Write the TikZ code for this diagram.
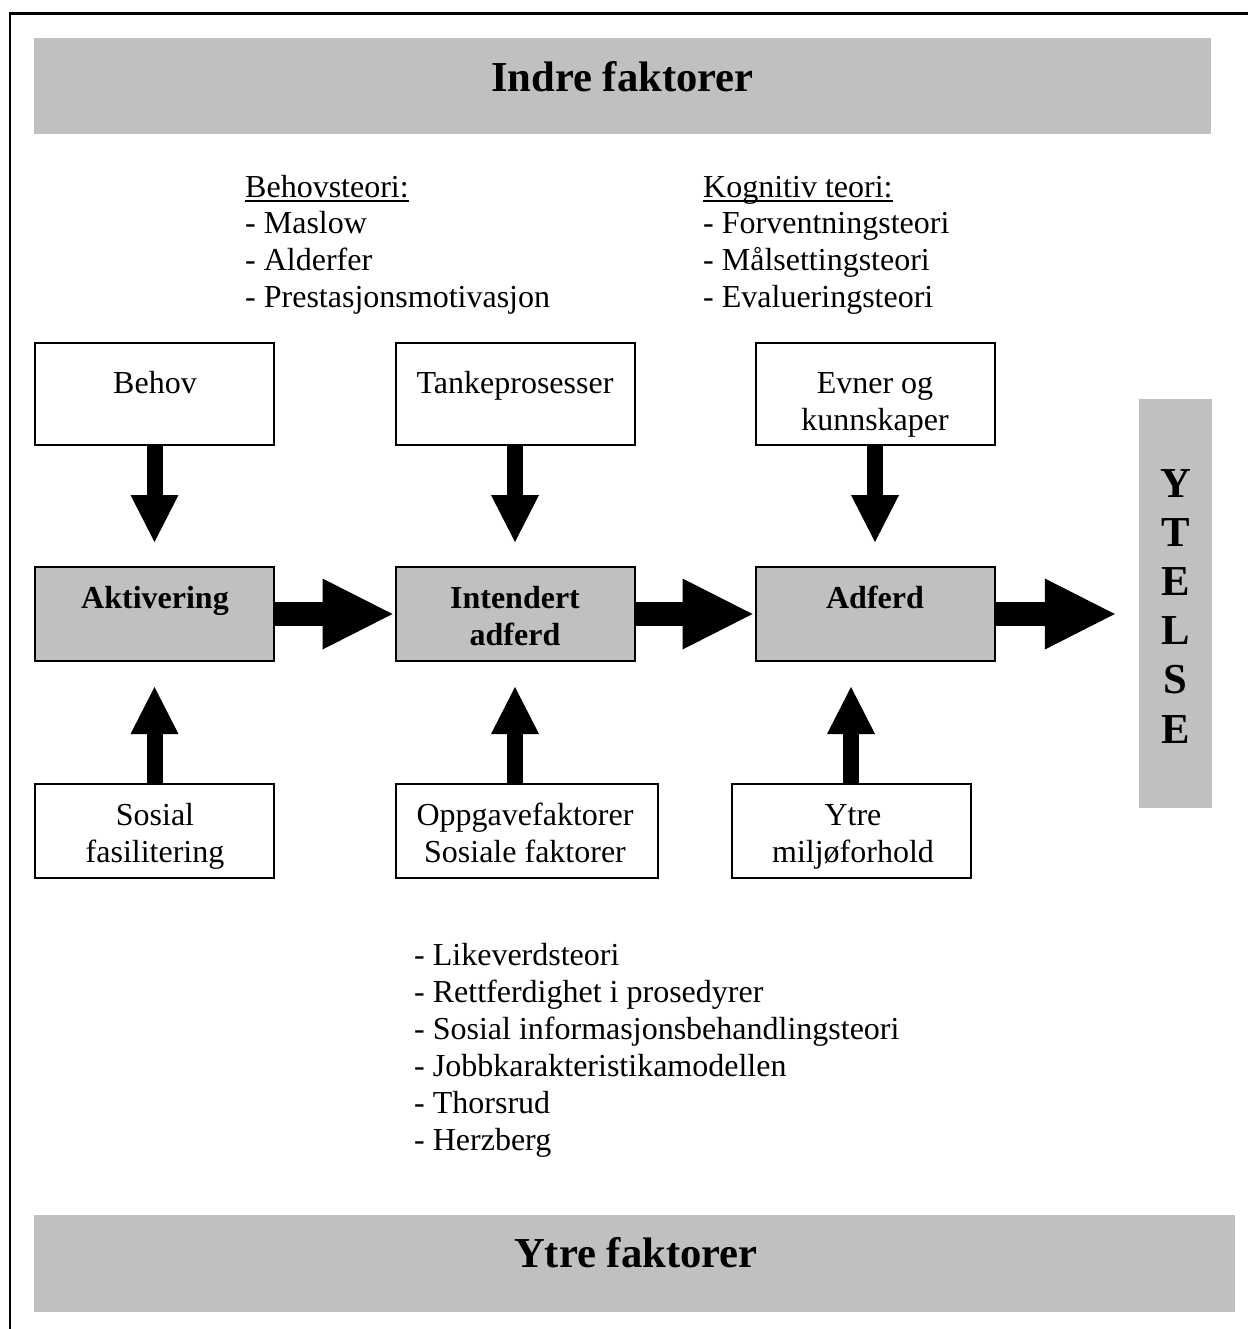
\documentclass[tikz,border=0pt]{standalone}
\usepackage{fontspec}
\setmainfont{Liberation Serif}
\usetikzlibrary{arrows.meta}
\definecolor{band}{RGB}{192,192,192}
\begin{document}
\begin{tikzpicture}[x=1pt,y=-1pt,
  txt/.style={inner sep=0pt, anchor=base, font=\fontsize{32}{37}\selectfont},
  txtl/.style={txt, anchor=base west},
  btxt/.style={inner sep=0pt, anchor=base, font=\fontsize{32}{37}\selectfont\bfseries},
  titletxt/.style={inner sep=0pt, anchor=base, font=\fontsize{42.67}{49}\selectfont\bfseries},
  boxtop/.style={draw, line width=2pt, inner sep=0pt, minimum width=239pt, minimum height=102pt},
  boxmid/.style={draw, line width=2pt, fill=band, inner sep=0pt, minimum width=239pt, minimum height=94pt},
  boxbot/.style={draw, line width=2pt, inner sep=0pt, minimum width=239pt, minimum height=94pt},
  bandbox/.style={fill=band, inner sep=0pt},
  varr/.style={line width=16pt, -{Triangle[width=48pt,length=47pt,line width=0pt]}},
  harr/.style={line width=24pt, -{Triangle[width=71pt,length=70pt,line width=0pt]}},
  uline/.style={line width=2pt}
]
\useasboundingbox (0,0) rectangle (1248,1329);
% frame
\draw[line width=2.5pt] (10,1329) -- (10,13.5) -- (1248,13.5);
% bands
\node[bandbox, minimum width=1177pt, minimum height=96pt] (topband) at (622.5,86) {};
\node[titletxt] (toptitle) at (622.5,92) {Indre faktorer};
\node[bandbox, minimum width=1201pt, minimum height=97pt] (botband) at (634.5,1263.5) {};
\node[titletxt] (bottitle) at (636,1267) {Ytre faktorer};
% ytelse bar
\node[bandbox, minimum width=73pt, minimum height=409pt] (ytelse) at (1175.5,603.5) {};
\foreach \l [count=\i from 0] in {Y,T,E,L,S,E}
  \node[titletxt] (yl\i) at (1175.5,497+49.2*\i) {\l};
% theory lists
\node[txtl] (behh) at (245,198) {Behovsteori:};
\node[txtl] (beh1) at (245,234) {- Maslow};
\node[txtl] (beh2) at (245,271) {- Alderfer};
\node[txtl] (beh3) at (245,307) {- Prestasjonsmotivasjon};
\draw[uline] ([yshift=-3pt]behh.base west) -- ([yshift=-3pt]behh.base east);
\node[txtl] (kogh) at (703,198) {Kognitiv teori:};
\node[txtl] (kog1) at (703,234) {- Forventningsteori};
\node[txtl] (kog2) at (703,271) {- Målsettingsteori};
\node[txtl] (kog3) at (703,307) {- Evalueringsteori};
\draw[uline] ([yshift=-3pt]kogh.base west) -- ([yshift=-3pt]kogh.base east);
\node[txtl] (lik1) at (414,965) {- Likeverdsteori};
\node[txtl] (lik2) at (414,1002) {- Rettferdighet i prosedyrer};
\node[txtl] (lik3) at (414,1039) {- Sosial informasjonsbehandlingsteori};
\node[txtl] (lik4) at (414,1076) {- Jobbkarakteristikamodellen};
\node[txtl] (lik5) at (414,1113) {- Thorsrud};
\node[txtl] (lik6) at (414,1150) {- Herzberg};
% boxes
\node[boxtop] (behov) at (154.5,394) {};
\node[boxtop] (tanke) at (515,394) {};
\node[boxtop] (evner) at (875,394) {};
\node[boxmid] (akt) at (154.5,614) {};
\node[boxmid] (int) at (515,614) {};
\node[boxmid] (adf) at (875,614) {};
\node[boxbot] (sos) at (154.5,831) {};
\node[boxbot, minimum width=262pt] (opp) at (527,831) {};
\node[boxbot] (ytre) at (851,831) {};
% box texts
\node[txt] (tbehov) at (155,393) {Behov};
\node[txt] (ttanke) at (515,393) {Tankeprosesser};
\node[txt] (tevner1) at (875,393) {Evner og};
\node[txt] (tevner2) at (875,430) {kunnskaper};
\node[btxt] (takt) at (155,608) {Aktivering};
\node[btxt] (tint1) at (515,608) {Intendert};
\node[btxt] (tint2) at (515,645) {adferd};
\node[btxt] (tadf) at (875,608) {Adferd};
\node[txt] (tsos1) at (155,825) {Sosial};
\node[txt] (tsos2) at (155,862) {fasilitering};
\node[txt] (topp1) at (525,825) {Oppgavefaktorer};
\node[txt] (topp2) at (525,862) {Sosiale faktorer};
\node[txt] (tytre1) at (853,825) {Ytre};
\node[txt] (tytre2) at (853,862) {miljøforhold};
% arrows
\draw[varr, shorten >=24pt] (behov.south) -- (akt.north);
\draw[varr, shorten >=24pt] (tanke.south) -- (int.north);
\draw[varr, shorten >=24pt] (evner.south) -- (adf.north);
\draw[varr, shorten >=25pt] (sos.north) -- (akt.south);
\draw[varr, shorten >=25pt] (int.south |- opp.north) -- (int.south);
\draw[varr, shorten >=25pt] (ytre.north) -- (ytre.north |- adf.south);
\draw[harr, shorten >=2pt] (akt.east) -- (int.west);
\draw[harr, shorten >=2pt] (int.east) -- (adf.west);
\draw[harr, shorten >=24pt] (adf.east) -- (adf.east -| ytelse.west);
\end{tikzpicture}
\end{document}
